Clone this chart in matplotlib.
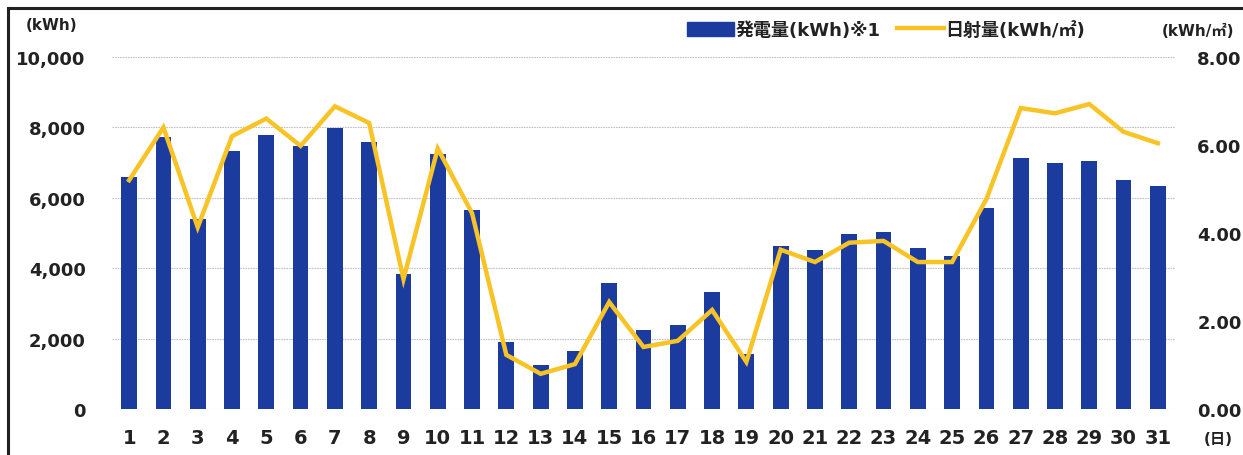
import matplotlib
matplotlib.use('Agg')
import matplotlib.pyplot as plt
from matplotlib.lines import Line2D
from matplotlib.ticker import FuncFormatter

#######################################
## Data
#######################################

days = list(range(1, 32))
power_kwh = [6600, 7730, 5400, 7330, 7780, 7470, 7980, 7590, 3830, 7240,
             5650, 1900, 1250, 1650, 3580, 2240, 2390, 3320, 1560, 4630,
             4520, 4970, 5030, 4570, 4350, 5710, 7130, 6990, 7050, 6510, 6340]
solar_kwh_m2 = [5.20, 6.40, 4.13, 6.20, 6.60, 5.98, 6.88, 6.50, 2.95, 5.92,
                4.45, 1.23, 0.80, 1.02, 2.43, 1.41, 1.55, 2.25, 1.07, 3.62,
                3.34, 3.78, 3.82, 3.34, 3.34, 4.77, 6.84, 6.72, 6.93, 6.30, 6.04]
left_ticks = [0, 2000, 4000, 6000, 8000, 10000]
right_ticks = [0, 2, 4, 6, 8]

BAR_COLOR = '#1b3c9e'
LINE_COLOR = '#f7c325'
TEXT_COLOR = '#222222'
JP = ['DejaVu Sans', 'Noto Sans CJK JP']

#######################################
## Figure
#######################################

W, H = 1243, 456
fig = plt.figure(figsize=(W / 100, H / 100), dpi=100)

def fx(px):
    return px / W

def fy(py):
    return 1 - py / H

ax = fig.add_axes([fx(112), fy(410), fx(1175) - fx(112), fy(58) - fy(410)])
ax2 = ax.twinx()

ax.bar(days, power_kwh, width=0.46, color=BAR_COLOR, zorder=2)
ax.set_ylim(0, 10000)
ax.set_xlim(0.5, 31.5)
ax.set_yticks(left_ticks)
ax.yaxis.set_major_formatter(FuncFormatter(lambda v, p: '{:,.0f}'.format(v)))
ax.set_xticks(days)
ax.grid(axis='y', color='#c2c2c2', lw=0.8, linestyle=(0, (1.5, 0.8)), zorder=0)
ax.set_axisbelow(True)

ax2.plot(days, solar_kwh_m2, color=LINE_COLOR, lw=3.2, zorder=3,
         solid_joinstyle='miter')
ax2.set_ylim(0, 8)
ax2.set_yticks(right_ticks)
ax2.yaxis.set_major_formatter(FuncFormatter(lambda v, p: '{:.2f}'.format(v)))

for a in (ax, ax2):
    for s in a.spines.values():
        s.set_visible(False)
    a.tick_params(length=0, labelsize=13, labelcolor=TEXT_COLOR)

ax.tick_params(axis='y', pad=19)
ax.tick_params(axis='x', pad=14, labelsize=14)
ax2.tick_params(axis='y', pad=16)
for lab in ax.get_xticklabels() + ax.get_yticklabels() + ax2.get_yticklabels():
    lab.set_fontweight('bold')

# unit labels
fig.text(fx(52), fy(26), '(kWh)', ha='center', va='center', fontsize=11,
         fontweight='bold', color=TEXT_COLOR, family=JP)
fig.text(fx(1198), fy(31), '(kWh/㎡)', ha='center', va='center', fontsize=11,
         fontweight='bold', color=TEXT_COLOR, family=JP)
fig.text(fx(1218), fy(440), '(日)', ha='center', va='center', fontsize=11,
         fontweight='bold', color=TEXT_COLOR, family=JP)

# legend
handles = [plt.Rectangle((0, 0), 1, 1, color=BAR_COLOR),
           Line2D([], [], color=LINE_COLOR, lw=3.2)]
leg = fig.legend(handles, ['発電量(kWh)※1', '日射量(kWh/㎡)'],
                 loc='center', bbox_to_anchor=(fx(886), fy(31)), ncol=2,
                 frameon=False, handlelength=2.6, handleheight=0.8,
                 handletextpad=0.1, columnspacing=0.9,
                 prop={'family': JP, 'weight': 'bold', 'size': 13})
for t in leg.get_texts():
    t.set_color(TEXT_COLOR)

# outer frame
fig.add_artist(Line2D([fx(8), fx(8)], [0, fy(9)], color='#222222', lw=2.2,
                      transform=fig.transFigure))
fig.add_artist(Line2D([fx(8), 1], [fy(9), fy(9)], color='#222222', lw=2.2,
                      transform=fig.transFigure))

fig.savefig('out.png', dpi=100)
